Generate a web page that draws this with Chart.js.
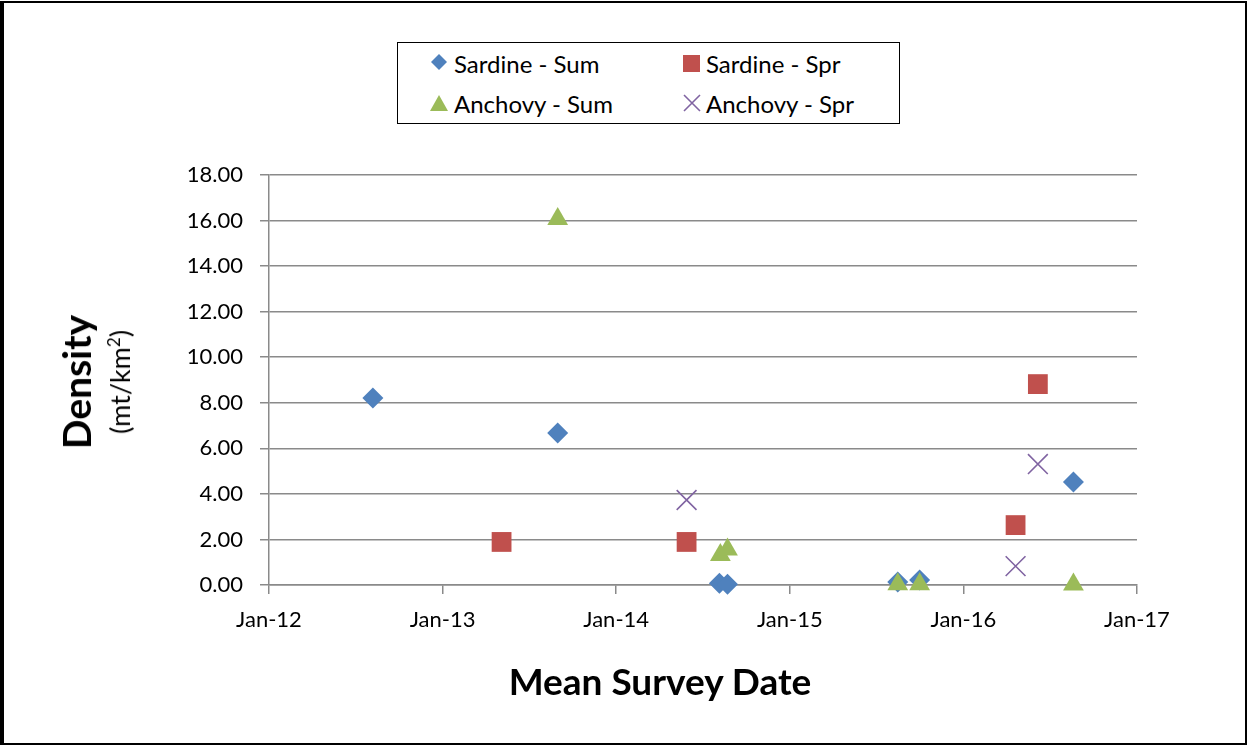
<!DOCTYPE html>
<html>
<head>
<meta charset="utf-8">
<script src="https://cdn.jsdelivr.net/npm/chart.js@4"></script>
<style>
  html, body { margin: 0; padding: 0; background: #fff; }
  #wrap { position: relative; width: 1247px; height: 746px; font-family: Lato, "Open Sans", sans-serif; }
  #chart { position: absolute; left: 0; top: 0; }
  #frame { position: absolute; left: 0; top: 1px; width: 1241px; height: 740px; border: 2px solid #000; border-left-width: 4px; pointer-events: none; }
  #legend {
    position: absolute; left: 397px; top: 42px; width: 501px; height: 80px;
    border: 1.5px solid #000; background: #fff;
    display: grid; grid-template-columns: 252px 249px; grid-template-rows: 40px 40px;
    font-size: 24px; color: #000;
  }
  .item { display: flex; align-items: center; padding-left: 33px; }
  .item svg { margin-right: 5px; }
  #ytitle { position: absolute; left: 95px; top: 382px; transform: translate(-50%, -50%) rotate(-90deg); white-space: nowrap; text-align: center; line-height: 1; }
  #ytitle .main { display: block; font-weight: bold; font-size: 39px; }
  #ytitle .unit { display: block; font-size: 27px; margin-top: 9px; }
  #xtitle { position: absolute; left: 660px; top: 680px; transform: translate(-50%, -50%); white-space: nowrap; font-weight: bold; font-size: 37px; line-height: 1; }
</style>
</head>
<body>
<div id="wrap">
  <canvas id="chart" width="1247" height="746"></canvas>
  <div id="legend"></div>
  <div id="ytitle"><span class="main">Density</span><span class="unit">(mt/km<sup style="font-size:17px">2</sup>)</span></div>
  <div id="xtitle">Mean Survey Date</div>
  <div id="frame"></div>
</div>
<script>
// survey dates and densities
const sardineSumDates = ['2012-08-07', '2013-08-31', '2014-08-06', '2014-08-23', '2015-08-16', '2015-10-01', '2016-08-20'];
const sardineSumDensity = [8.21, 6.67, 0.08, 0.03, 0.13, 0.22, 4.52];

const sardineSprDates = ['2013-05-05', '2014-05-29', '2016-04-20', '2016-06-06'];
const sardineSprDensity = [1.89, 1.89, 2.63, 8.82];

const anchovySumDates = ['2013-08-31', '2014-08-08', '2014-08-23', '2015-08-16', '2015-10-01', '2016-08-20'];
const anchovySumDensity = [16.07, 1.32, 1.56, 0.03, 0.03, 0.02];

const anchovySprDates = ['2014-05-29', '2016-06-06', '2016-04-20'];
const anchovySprDensity = [3.73, 5.31, 0.83];

const seriesNames = ['Sardine - Sum', 'Sardine - Spr', 'Anchovy - Sum', 'Anchovy - Spr'];
const seriesColors = ['#4F81BD', '#C0504D', '#9BBB59', '#8064A2'];
const yearTicks = [2012, 2013, 2014, 2015, 2016, 2017];

// no date adapter offline, so dates go on a linear axis as decimal years
const toYear = (s) => {
  const d = new Date(s + 'T00:00:00Z');
  const start = Date.UTC(d.getUTCFullYear(), 0, 1);
  const end = Date.UTC(d.getUTCFullYear() + 1, 0, 1);
  return d.getUTCFullYear() + (d - start) / (end - start);
};
const toPoints = (dates, vals) => dates.map((d, i) => ({x: toYear(d), y: vals[i]}));

const FONT = 'Lato, "Open Sans", sans-serif';
const GRID = '#8a8a8a';

const datasets = [
  {data: toPoints(sardineSumDates, sardineSumDensity), pointStyle: 'rectRot', pointRadius: 10.5, order: 4},
  {data: toPoints(sardineSprDates, sardineSprDensity), pointStyle: 'rect', pointRadius: 14, order: 3},
  {data: toPoints(anchovySumDates, anchovySumDensity), pointStyle: 'triangle', pointRadius: 12, order: 2},
  {data: toPoints(anchovySprDates, anchovySprDensity), pointStyle: 'crossRot', pointRadius: 14, order: 1, borderWidth: 1.6},
].map((ds, i) => ({
  label: seriesNames[i],
  backgroundColor: seriesColors[i],
  borderColor: seriesColors[i],
  borderWidth: 0,
  pointHoverRadius: ds.pointRadius,
  clip: false,
  ...ds,
}));

new Chart(document.getElementById('chart'), {
  type: 'scatter',
  data: {datasets},
  options: {
    responsive: false,
    animation: false,
    layout: {padding: {left: 160, right: 110, top: 175, bottom: 44}},
    plugins: {
      legend: {display: false},
      tooltip: {enabled: false},
    },
    scales: {
      x: {
        type: 'linear',
        min: 2012,
        max: 2017,
        afterBuildTicks: (scale) => { scale.ticks = yearTicks.map((v) => ({value: v})); },
        afterFit: (scale) => { scale.height = 117; },
        grid: {drawOnChartArea: false, drawTicks: true, tickLength: 9, color: GRID, lineWidth: 1.5},
        border: {color: GRID, width: 1.5},
        ticks: {
          padding: 13,
          color: '#000',
          font: {family: FONT, size: 22},
          callback: (v) => 'Jan-' + String(v).slice(2),
        },
      },
      y: {
        min: 0,
        max: 18,
        afterFit: (scale) => { scale.width = 109; },
        grid: {color: GRID, lineWidth: 1.5, tickLength: 9},
        border: {color: GRID, width: 1.5},
        ticks: {
          stepSize: 2,
          padding: 17,
          color: '#000',
          font: {family: FONT, size: 22},
          callback: (v) => v.toFixed(2),
        },
      },
    },
  },
});

// legend in two columns like the original
const markerSvg = (i) => {
  const c = seriesColors[i];
  const shapes = [
    `<polygon points="8,0 16,8 8,16 0,8" fill="${c}"/>`,
    `<rect x="0" y="1" width="17" height="17" fill="${c}"/>`,
    `<polygon points="8,1 17,17 -1,17" fill="${c}"/>`,
    `<path d="M1,1 L17,17 M17,1 L1,17" stroke="${c}" stroke-width="1.6"/>`,
  ];
  return `<svg width="18" height="18" viewBox="0 0 18 18" overflow="visible">${shapes[i]}</svg>`;
};
document.getElementById('legend').innerHTML = seriesNames
  .map((name, i) => `<div class="item">${markerSvg(i)}<span>${name}</span></div>`)
  .join('');
</script>
</body>
</html>
